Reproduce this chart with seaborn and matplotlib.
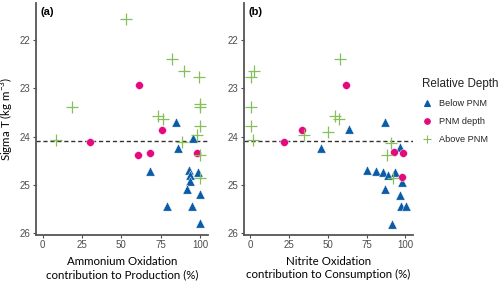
import matplotlib
matplotlib.use('Agg')
import matplotlib.pyplot as plt
import seaborn as sns
import pandas as pd
from matplotlib.lines import Line2D

sns.set_theme(style='ticks')
plt.rcParams['font.family'] = ['Liberation Sans', 'DejaVu Sans']

# panel (a): ammonium oxidation contribution to production
a_above_x = [53.0, 82.2, 89.6, 99.6, 18.6, 100.0, 100.0, 73.5, 76.5, 100.0, 97.9, 8.2, 88.4, 100.0, 100.0]
a_above_y = [21.57, 22.40, 22.63, 22.77, 23.38, 23.33, 23.39, 23.57, 23.64, 23.77, 23.97, 24.08, 24.12, 24.39, 24.85]
a_pnm_x = [61.4, 75.8, 29.9, 60.8, 68.0, 98.1]
a_pnm_y = [22.92, 23.86, 24.12, 24.39, 24.35, 24.34]
a_below_x = [84.5, 95.3, 85.8, 68.2, 93.2, 93.6, 98.5, 93.6, 91.9, 100.0, 79.2, 94.7, 100.0]
a_below_y = [23.70, 24.03, 24.24, 24.71, 24.70, 24.79, 24.73, 24.93, 25.09, 25.20, 25.44, 25.44, 25.80]

# panel (b): nitrite oxidation contribution to consumption
b_above_x = [57.7, 2.2, 0.4, 0.4, 0.4, 1.5, 34.6, 50.2, 54.9, 57.1, 90.6, 88.1, 92.0]
b_above_y = [22.40, 22.63, 22.77, 23.39, 23.77, 24.08, 23.97, 23.90, 23.57, 23.64, 24.14, 24.38, 24.85]
b_pnm_x = [61.8, 33.1, 21.8, 92.8, 98.3, 97.7]
b_pnm_y = [22.92, 23.86, 24.12, 24.33, 24.35, 24.84]
b_below_x = [63.5, 45.3, 87.0, 96.6, 75.2, 81.0, 85.9, 93.4, 89.1, 98.1, 86.9, 96.6, 97.2, 100.4, 91.3]
b_below_y = [23.85, 24.23, 23.69, 24.22, 24.70, 24.71, 24.73, 24.74, 24.79, 24.95, 25.09, 25.21, 25.45, 25.45, 25.82]

pnm_line = 24.1
groups = ['Below PNM', 'PNM depth', 'Above PNM']
colors = {'Below PNM': '#0B5CA6', 'PNM depth': '#E4097D', 'Above PNM': '#86BE5A'}
markers = {'Below PNM': '^', 'PNM depth': 'o', 'Above PNM': '+'}
sizes = {'Below PNM': 44, 'PNM depth': 32, 'Above PNM': 75}

def make_df(above_x, above_y, pnm_x, pnm_y, below_x, below_y):
    return pd.concat([
        pd.DataFrame({'x': below_x, 'y': below_y, 'depth': 'Below PNM'}),
        pd.DataFrame({'x': pnm_x, 'y': pnm_y, 'depth': 'PNM depth'}),
        pd.DataFrame({'x': above_x, 'y': above_y, 'depth': 'Above PNM'}),
    ])

df_a = make_df(a_above_x, a_above_y, a_pnm_x, a_pnm_y, a_below_x, a_below_y)
df_b = make_df(b_above_x, b_above_y, b_pnm_x, b_pnm_y, b_below_x, b_below_y)

fig = plt.figure(figsize=(5, 2.82), dpi=100)
ax_a = fig.add_axes([0.071, 0.167, 0.345, 0.822])
ax_b = fig.add_axes([0.487, 0.167, 0.339, 0.822])

title_font = dict(family=['Lato', 'DejaVu Sans'], fontsize=8.3, color='black')

for ax, d, lab, tag in [(ax_a, df_a, 'Ammonium Oxidation\ncontribution to Production (%)', '(a)'),
                        (ax_b, df_b, 'Nitrite Oxidation\ncontribution to Consumption (%)', '(b)')]:
    ax.axhline(pnm_line, color='#333333', linestyle=(0, (3, 2)), linewidth=1.0, zorder=1)
    for g in groups:
        sub = d[d.depth == g]
        kw = dict(linewidth=0.9) if g == 'Above PNM' else dict(edgecolor='white', linewidth=0.3)
        sns.scatterplot(data=sub, x='x', y='y', ax=ax, color=colors[g], marker=markers[g],
                        s=sizes[g], zorder=3, legend=False, **kw)
    ax.set_xlim(-4.5, 105)
    ax.set_ylim(26.04, 21.23)
    ax.set_xticks([0, 25, 50, 75, 100])
    ax.set_yticks([22, 23, 24, 25, 26])
    ax.tick_params(axis='both', labelsize=7, colors='#4D4D4D', length=2.5, width=0.8, pad=1.5)
    for s in ['top', 'right']:
        ax.spines[s].set_visible(False)
    for s in ['left', 'bottom']:
        ax.spines[s].set_color('#555555')
        ax.spines[s].set_linewidth(1.3)
    ax.set_xlabel(lab, labelpad=4, linespacing=1.25, **title_font)
    ax.set_ylabel('')
    ax.text(0.03, 0.985, tag, transform=ax.transAxes, ha='left', va='top',
            fontsize=8, fontweight='bold', color='black')

ax_a.set_ylabel('Sigma T (kg m$^{\\mathregular{-3}}$)', **title_font)
ax_a.yaxis.set_label_coords(-0.112, 0.5)

handles = [Line2D([], [], linestyle='none', marker=markers[g], color=colors[g],
                  markersize=4 if g != 'Above PNM' else 6, markeredgewidth=0.8)
           for g in groups]
leg = fig.legend(handles, groups, title='Relative Depth', loc='upper left',
                 bbox_to_anchor=(0.844, 0.725), frameon=False, fontsize=6.6,
                 title_fontsize=8.4, handletextpad=0.9, labelspacing=1.0,
                 handlelength=1.0, alignment='left', borderaxespad=0, borderpad=0)
leg.get_title().set_color('#222222')

fig.savefig('out.png', dpi=100)
